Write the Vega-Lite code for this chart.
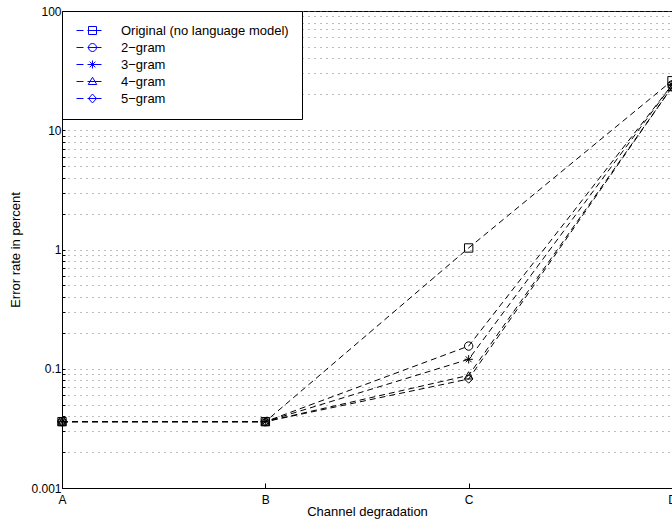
{
  "$schema": "https://vega.github.io/schema/vega-lite/v6.json",
  "width": 610,
  "height": 477,
  "autosize": {"type": "none"},
  "padding": {"left": 62, "top": 11, "right": 0, "bottom": 37},
  "background": "white",
  "config": {
    "font": "Liberation Sans",
    "view": {"stroke": "black", "strokeWidth": 1},
    "axis": {"domainColor": "black", "tickColor": "black", "labelColor": "black", "titleColor": "black", "labelFont": "Liberation Sans", "titleFont": "Liberation Sans", "labelFontSize": 12, "titleFontSize": 13, "titleFontWeight": "normal"},
    "legend": {"labelFont": "Liberation Sans", "labelFontSize": 13, "labelColor": "black"}
  },
  "data": {
    "values": [
      {"series": "Original (no language model)", "cond": "A", "rate": 0.036},
      {"series": "Original (no language model)", "cond": "B", "rate": 0.036},
      {"series": "Original (no language model)", "cond": "C", "rate": 1.03},
      {"series": "Original (no language model)", "cond": "D", "rate": 26},
      {"series": "2\u2212gram", "cond": "A", "rate": 0.036},
      {"series": "2\u2212gram", "cond": "B", "rate": 0.036},
      {"series": "2\u2212gram", "cond": "C", "rate": 0.155},
      {"series": "2\u2212gram", "cond": "D", "rate": 24},
      {"series": "3\u2212gram", "cond": "A", "rate": 0.036},
      {"series": "3\u2212gram", "cond": "B", "rate": 0.036},
      {"series": "3\u2212gram", "cond": "C", "rate": 0.12},
      {"series": "3\u2212gram", "cond": "D", "rate": 24},
      {"series": "4\u2212gram", "cond": "A", "rate": 0.036},
      {"series": "4\u2212gram", "cond": "B", "rate": 0.036},
      {"series": "4\u2212gram", "cond": "C", "rate": 0.088},
      {"series": "4\u2212gram", "cond": "D", "rate": 23},
      {"series": "5\u2212gram", "cond": "A", "rate": 0.036},
      {"series": "5\u2212gram", "cond": "B", "rate": 0.036},
      {"series": "5\u2212gram", "cond": "C", "rate": 0.082},
      {"series": "5\u2212gram", "cond": "D", "rate": 23}
    ]
  },
  "encoding": {
    "x": {
      "field": "cond", "type": "ordinal",
      "scale": {"type": "point", "padding": 0, "domain": ["A", "B", "C", "D"]},
      "axis": {"title": "Channel degradation", "labelAngle": 0, "tickSize": -5, "labelPadding": 11, "titlePadding": 0, "grid": false, "domainWidth": 1}
    },
    "y": {
      "field": "rate", "type": "quantitative",
      "scale": {"type": "log", "domain": [0.01, 100], "nice": false},
      "axis": {
        "title": "Error rate in percent",
        "values": [0.01, 0.02, 0.03, 0.04, 0.05, 0.06, 0.07, 0.08, 0.09, 0.1, 0.2, 0.3, 0.4, 0.5, 0.6, 0.7, 0.8, 0.9, 1, 2, 3, 4, 5, 6, 7, 8, 9, 10, 20, 30, 40, 50, 60, 70, 80, 90, 100],
        "labelExpr": "datum.value == 0.01 ? '0.001' : datum.value == 0.1 ? '0.1' : datum.value == 1 ? '1' : datum.value == 10 ? '10' : datum.value == 100 ? '100' : ''",
        "grid": true, "gridDash": [1, 5], "gridColor": "#7a7a7a", "gridWidth": 1,
        "tickSize": -3, "labelPadding": 4, "titlePadding": 8
      }
    }
  },
  "layer": [
    {
      "mark": {"type": "line", "color": "black", "strokeWidth": 1, "strokeDash": [6, 4]},
      "encoding": {"detail": {"field": "series"}}
    },
    {
      "mark": {"type": "point", "filled": false, "color": "black", "strokeWidth": 1, "size": 70, "opacity": 1},
      "encoding": {
        "shape": {
          "field": "series", "type": "nominal",
          "scale": {
            "domain": ["Original (no language model)", "2\u2212gram", "3\u2212gram", "4\u2212gram", "5\u2212gram"],
            "range": ["square", "circle", "M-1,0H1M0,-1V1M-0.7,-0.7L0.7,0.7M-0.7,0.7L0.7,-0.7", "triangle-up", "diamond"]
          },
          "legend": null
        }
      }
    },
    {
      "mark": {"type": "point", "filled": false, "color": "black", "size": 100, "opacity": 0},
      "encoding": {
        "shape": {
          "field": "series", "type": "nominal",
          "scale": {
            "domain": ["Original (no language model)", "2\u2212gram", "3\u2212gram", "4\u2212gram", "5\u2212gram"],
            "range": [
              "M-1,0H0.4M1.2,0H4M1.4,-0.8H3V0.8H1.4Z",
              "M-1,0H0.4M1.2,0H4M3,0A0.8,0.8 0 1,1 1.4,0A0.8,0.8 0 1,1 3,0",
              "M-1,0H0.4M1.2,0H4M2.2,-0.8V0.8M1.63,-0.57L2.77,0.57M1.63,0.57L2.77,-0.57",
              "M-1,0H0.4M1.2,0H4M2.2,-0.85L3.05,0.6H1.35Z",
              "M-1,0H0.4M1.2,0H4M2.2,-0.9L3,0L2.2,0.9L1.4,0Z"
            ]
          },
          "legend": {
            "title": null, "orient": "none", "legendX": 0, "legendY": 0,
            "padding": 13, "fillColor": "white", "strokeColor": "black",
            "symbolSize": 100, "symbolStrokeColor": "blue", "symbolFillColor": "transparent",
            "symbolStrokeWidth": 1, "symbolOpacity": 1, "labelOffset": 33, "rowPadding": 3,
            "labelFontSize": 13, "labelLimit": 300
          }
        }
      }
    }
  ],
  "resolve": {"scale": {"shape": "independent"}, "legend": {"shape": "independent"}}
}
